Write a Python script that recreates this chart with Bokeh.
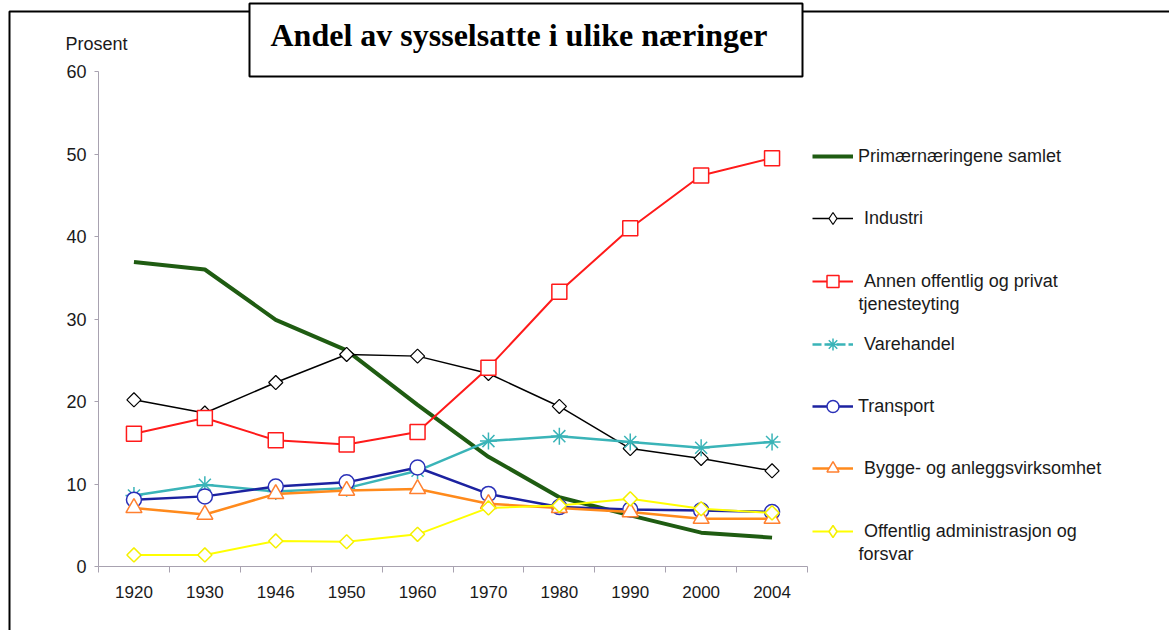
from bokeh.plotting import figure
from bokeh.models import (Range1d, FixedTicker, Label, BoxAnnotation, Legend, LegendItem,
                          LinearAxis)
from bokeh.embed import file_html
from bokeh.resources import INLINE

# ---------------- data ----------------
years = ["1920", "1930", "1946", "1950", "1960", "1970", "1980", "1990", "2000", "2004"]
primaer = [36.9, 36.0, 29.9, 26.2, 19.6, 13.3, 8.4, 6.2, 4.1, 3.5]
industri = [20.2, 18.6, 22.3, 25.7, 25.5, 23.4, 19.4, 14.3, 13.1, 11.6]
annen = [16.1, 18.0, 15.3, 14.8, 16.3, 24.1, 33.3, 41.0, 47.4, 49.5]
varehandel = [8.6, 9.9, 9.1, 9.5, 11.6, 15.2, 15.8, 15.1, 14.4, 15.1]
transport = [8.1, 8.5, 9.7, 10.2, 12.0, 8.8, 7.2, 6.9, 6.8, 6.6]
bygge = [7.1, 6.3, 8.8, 9.2, 9.4, 7.6, 7.1, 6.6, 5.8, 5.8]
offentlig = [1.4, 1.4, 3.1, 3.0, 3.9, 7.1, 7.4, 8.2, 7.0, 6.5]
y_ticks = [0, 10, 20, 30, 40, 50, 60]

title_text = "Andel av sysselsatte i ulike næringer"
y_label = "Prosent"

idx = list(range(len(years)))
n = len(years)

# ---------------- layout (pixels) ----------------
W, H = 1169, 630
AX_LEFT, AX_RIGHT = 98, 807      # x-axis extent in pixels
AX_TOP, AX_BOTTOM = 71, 566      # y=60 and y=0 in pixels
YMAX = 60

px_cat = (AX_RIGHT - AX_LEFT) / n
px_unit = (AX_BOTTOM - AX_TOP) / YMAX
x_start = -0.5 - AX_LEFT / px_cat
x_end = n - 0.5 + (W - AX_RIGHT) / px_cat
y_start = -(H - AX_BOTTOM) / px_unit
y_end = YMAX + AX_TOP / px_unit


def sy(ref_y):  # pixel row from top -> screen y from bottom
    return H - ref_y


p = figure(width=W, height=H, output_backend="svg", toolbar_location=None,
           x_range=Range1d(x_start, x_end), y_range=Range1d(y_start, y_end),
           x_axis_type=None, y_axis_type=None)
p.min_border = 0
p.min_border_left = 0
p.min_border_right = 0
p.min_border_top = 0
p.min_border_bottom = 0
p.outline_line_color = None
p.background_fill_color = "white"
p.border_fill_color = "white"
p.xgrid.visible = False
p.ygrid.visible = False

AX_COL = "#a8a2b0"
TXT_COL = "#1a1a1a"
FONT = "Liberation Sans"

xaxis = LinearAxis(fixed_location=0, bounds=(-0.5, n - 0.5),
                   ticker=FixedTicker(ticks=idx, minor_ticks=[i - 0.5 for i in range(n + 1)]))
xaxis.major_label_overrides = {i: y for i, y in enumerate(years)}
xaxis.major_tick_out = 0
xaxis.major_tick_in = 0
xaxis.minor_tick_out = 6
xaxis.minor_tick_in = 0
xaxis.axis_line_color = AX_COL
xaxis.minor_tick_line_color = AX_COL
xaxis.major_label_standoff = 13
xaxis.major_label_text_font = FONT
xaxis.major_label_text_font_size = "17px"
xaxis.major_label_text_color = TXT_COL
p.add_layout(xaxis, "below")

yaxis = LinearAxis(fixed_location=-0.5, bounds=(0, YMAX),
                   ticker=FixedTicker(ticks=y_ticks, minor_ticks=[]))
yaxis.major_tick_out = 4
yaxis.major_tick_in = 0
yaxis.axis_line_color = AX_COL
yaxis.major_tick_line_color = AX_COL
yaxis.major_label_standoff = 8
yaxis.major_label_text_font = FONT
yaxis.major_label_text_font_size = "18px"
yaxis.major_label_text_color = TXT_COL
p.add_layout(yaxis, "left")

# ---------------- series ----------------
GREEN = "#1f5c12"
BLACK = "black"
RED = "#ff1a1a"
TEAL = "#3ab4b8"
NAVY = "#1c22a0"
ORANGE = "#ff8a1c"
YELLOW = "#ffff00"

r_prim = p.line(idx, primaer, line_color=GREEN, line_width=4)

r_ind_l = p.line(idx, industri, line_color=BLACK, line_width=1.5)
r_ind_m = p.scatter(idx, industri, marker="square", angle=0.7854, size=10,
                    fill_color="white", line_color=BLACK, line_width=1.2)
r_ind_leg = p.scatter(idx, industri, marker="diamond", fill_color="white",
                      line_color=BLACK, line_width=1.2, visible=False)

r_ann_l = p.line(idx, annen, line_color=RED, line_width=2)
r_ann_m = p.scatter(idx, annen, marker="square", size=15,
                    fill_color="white", line_color=RED, line_width=1.5)

r_var_l = p.line(idx, varehandel, line_color=TEAL, line_width=2.5)
r_var_m = p.scatter(idx, varehandel, marker="asterisk", size=17,
                    line_color=TEAL, line_width=1.5)
r_var_leg = p.line(idx, varehandel, line_color=TEAL, line_width=2.5,
                   line_dash="9 3", visible=False)

r_tr_l = p.line(idx, transport, line_color=NAVY, line_width=2.5)
r_tr_m = p.scatter(idx, transport, marker="circle", size=15,
                   fill_color="white", line_color="#2a30b8", line_width=1.5)

r_by_l = p.line(idx, bygge, line_color=ORANGE, line_width=2.5)
r_by_m = p.scatter(idx, bygge, marker="triangle", size=16,
                   fill_color="white", line_color="#ff8030", line_width=1.5)

r_of_l = p.line(idx, offentlig, line_color=YELLOW, line_width=2)
r_of_m = p.scatter(idx, offentlig, marker="square", angle=0.7854, size=10,
                   fill_color="white", line_color="#f5f000", line_width=1.5)
r_of_leg = p.scatter(idx, offentlig, marker="diamond", fill_color="white",
                     line_color="#f5f000", line_width=1.5, visible=False)

# ---------------- frames & title ----------------
outer = BoxAnnotation(left=9, right=W + 200, top=sy(11), bottom=-200,
                      left_units="screen", right_units="screen",
                      top_units="screen", bottom_units="screen",
                      fill_alpha=0, line_color="black", line_alpha=1, line_width=2)
p.add_layout(outer)

tbox = BoxAnnotation(left=249, right=802, top=sy(3), bottom=sy(76),
                     left_units="screen", right_units="screen",
                     top_units="screen", bottom_units="screen",
                     fill_color="white", fill_alpha=1, line_color="black",
                     line_alpha=1, line_width=2)
p.add_layout(tbox)

p.add_layout(Label(x=270, y=sy(34), x_units="screen", y_units="screen",
                   text=title_text, text_font="Liberation Serif", text_font_style="bold",
                   text_font_size="32px", text_color="black", text_baseline="middle"))

p.add_layout(Label(x=65, y=sy(43), x_units="screen", y_units="screen",
                   text=y_label, text_font=FONT, text_font_size="18px",
                   text_color=TXT_COL, text_baseline="middle"))

# ---------------- legend ----------------
GH = 30  # legend glyph box height (marker size = 0.4 * GH)
legend_entries = [
    ("Primærnæringene samlet", [r_prim], 156, 5, None),
    ("Industri", [r_ind_l, r_ind_leg], 218, 11, None),
    ("Annen offentlig og privat", [r_ann_l, r_ann_m], 281, 11, "tjenesteyting"),
    ("Varehandel", [r_var_leg, r_var_m], 344, 11, None),
    ("Transport", [r_tr_l, r_tr_m], 406, 5, None),
    ("Bygge- og anleggsvirksomhet", [r_by_l, r_by_m], 468, 11, None),
    ("Offentlig administrasjon og", [r_of_l, r_of_leg], 531, 11, "forsvar"),
]
for label, rends, yc, standoff, second in legend_entries:
    leg = Legend(items=[LegendItem(label=label, renderers=rends)],
                 location=(812, sy(yc) - GH / 2),
                 padding=0, margin=0, spacing=0,
                 border_line_color=None, background_fill_alpha=0,
                 inactive_fill_alpha=0,
                 glyph_width=41, glyph_height=GH, label_height=GH,
                 label_standoff=standoff, label_text_font=FONT,
                 label_text_font_size="18px", label_text_color=TXT_COL)
    p.add_layout(leg)
    if second:
        p.add_layout(Label(x=858, y=sy(yc + 22), x_units="screen", y_units="screen",
                           text=second, text_font=FONT, text_font_size="18px",
                           text_color=TXT_COL, text_baseline="middle"))

open("out.html", "w").write(file_html(p, INLINE))
